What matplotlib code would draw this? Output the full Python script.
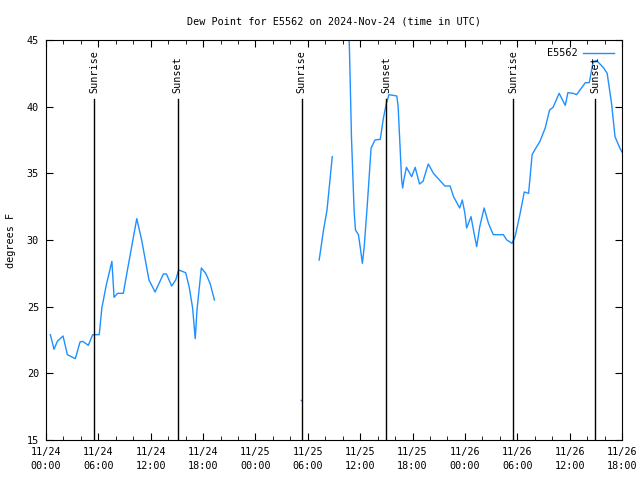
import numpy as np
import matplotlib
matplotlib.use("Agg")
import matplotlib.pyplot as plt

# hours since 2024-11-24 00:00 UTC, NaN marks a gap in the record
hours = [0.5, 0.92, 1.3, 1.95, 2.45, 2.9, 3.36, 3.9, 4.2, 4.85, 5.35, 6.1, 6.4, 6.9, 7.55,
         7.8, 8.2, 8.86, 9.4, 10.4, 10.96, 11.8, 12.5, 13.45, 13.8, 14.4, 14.86, 15.2, 16.0,
         16.4, 16.8, 17.1, 17.3, 17.8, 18.3, 18.8, 19.3,
         np.nan, 29.25, np.nan,
         31.3, 31.8, 32.2, 32.5, 32.8,
         np.nan,
         34.7, 34.8, 35.0, 35.3, 35.46, 35.8, 36.05, 36.25, 36.45, 36.8, 37.25, 37.7, 38.3,
         38.65, 39.0, 39.3, 40.2, 40.35, 40.55, 40.75, 40.87, 41.0, 41.3, 41.9, 42.3, 42.8,
         43.2, 43.8, 44.4, 45.7, 46.3, 46.7, 47.4, 47.7, 48.0, 48.2, 48.7, 49.05, 49.35, 49.7,
         50.2, 50.7, 51.25, 52.4, 52.8, 53.4, 53.75, 54.3, 54.8, 55.3, 55.7, 56.0, 56.6, 57.2,
         57.7, 58.1, 58.8, 59.5, 59.8, 60.4, 60.8, 61.8, 62.25, 62.7, 63.1, 63.4, 63.9, 64.3,
         64.8, 65.2, 65.75, 66.0]
dewpoint = [22.9, 21.8, 22.4, 22.8, 21.4, 21.25, 21.1, 22.35, 22.4, 22.1, 22.9, 22.9, 24.9,
            26.6, 28.4, 25.7, 26.0, 26.0, 28.0, 31.6, 30.0, 27.0, 26.1, 27.45, 27.45, 26.55,
            27.0, 27.75, 27.55, 26.5, 24.9, 22.6, 24.75, 27.9, 27.5, 26.75, 25.5,
            np.nan, 18.0, np.nan,
            28.5, 30.75, 32.25, 34.25, 36.25,
            np.nan,
            46.0, 43.5, 37.75, 32.25, 30.75, 30.4, 29.25, 28.25, 29.4, 32.5, 36.9, 37.5, 37.55,
            39.1, 40.25, 40.9, 40.8, 40.0, 37.25, 34.5, 33.9, 34.5, 35.45, 34.75, 35.45, 34.2,
            34.4, 35.7, 35.0, 34.05, 34.05, 33.25, 32.4, 33.0, 32.0, 30.9, 31.75, 30.5, 29.5,
            31.0, 32.4, 31.25, 30.4, 30.4, 30.0, 29.75, 30.25, 31.9, 33.6, 33.5, 36.4, 36.75,
            37.4, 38.4, 39.75, 39.95, 41.0, 40.1, 41.05, 41.0, 40.9, 41.8, 41.8, 43.4, 43.45,
            43.25, 42.9, 42.5, 40.25, 37.75, 36.9, 36.6]

sun_hours = [5.5, 15.1, 29.3, 38.95, 53.5, 62.9]
sun_labels = ["Sunrise", "Sunset", "Sunrise", "Sunset", "Sunrise", "Sunset"]

tick_hours = list(range(0, 67, 6))
tick_labels = ["11/24\n00:00", "11/24\n06:00", "11/24\n12:00", "11/24\n18:00",
               "11/25\n00:00", "11/25\n06:00", "11/25\n12:00", "11/25\n18:00",
               "11/26\n00:00", "11/26\n06:00", "11/26\n12:00", "11/26\n18:00"]

plt.rcParams['font.family'] = ['DejaVu Sans Mono']
fs = 7.3

fig = plt.figure(figsize=(6.4, 4.8), dpi=100)
ax = fig.add_axes([46 / 640, 40 / 480, 576 / 640, 400 / 480])

ax.plot(hours, dewpoint, color='#1e90ff', lw=1, label='E5562')

# isolated readings do not show up as a line, draw them as a dot
h = np.array(hours)
d = np.array(dewpoint)
for i in range(len(h)):
    if np.isnan(d[i]):
        continue
    prev_gap = i == 0 or np.isnan(d[i - 1])
    next_gap = i == len(d) - 1 or np.isnan(d[i + 1])
    if prev_gap and next_gap:
        ax.plot(h[i], d[i], 's', color='#1e90ff', ms=1.2, mew=0)

for sh, lab in zip(sun_hours, sun_labels):
    ax.plot([sh, sh], [15, 40.55], color='black', lw=1)
    ax.text(sh, 41.0, lab, rotation=90, ha='center', va='bottom', fontsize=fs)

ax.set_xlim(0, 66)
ax.set_ylim(15, 45)
ax.set_xticks(tick_hours)
ax.set_xticklabels(tick_labels, linespacing=1.5)
ax.set_xticks(range(0, 67, 2), minor=True)
ax.set_yticks(range(15, 46, 5))
ax.tick_params(which='both', direction='in', top=True, right=True, labelsize=fs, pad=5)
ax.tick_params(which='major', length=5)
ax.tick_params(which='minor', length=3)

ax.set_title("Dew Point for E5562 on 2024-Nov-24 (time in UTC)", fontsize=fs, pad=11)
ax.set_ylabel("degrees F", fontsize=fs)
ax.yaxis.set_label_coords(-30 / 576, 0.5)

ax.legend(loc='upper right', frameon=False, markerfirst=False, handlelength=3.0,
          handletextpad=0.6, fontsize=fs, borderaxespad=0.4)

fig.savefig("out.png", dpi=100)
